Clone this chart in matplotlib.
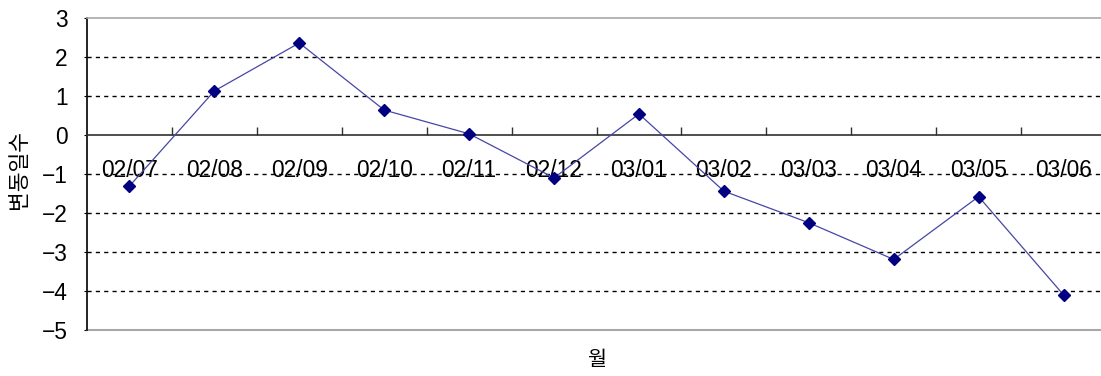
import matplotlib
matplotlib.use("Agg")
import matplotlib.pyplot as plt
from matplotlib.ticker import FixedLocator

months = ["02/07", "02/08", "02/09", "02/10", "02/11", "02/12",
          "03/01", "03/02", "03/03", "03/04", "03/05", "03/06"]
values = [-1.31, 1.13, 2.36, 0.64, 0.03, -1.10,
          0.54, -1.44, -2.25, -3.19, -1.58, -4.10]
yticks = [3, 2, 1, 0, -1, -2, -3, -4, -5]
grid_levels = [2, 1, -1, -2, -3, -4]

plt.rcParams['font.family'] = ['Liberation Sans', 'Noto Sans CJK KR', 'DejaVu Sans']

W, H = 1101, 376
fig = plt.figure(figsize=(W / 100, H / 100), dpi=100)
left, right, top, bottom = 87, 1106, 18, 330
ax = fig.add_axes([left / W, (H - bottom) / H, (right - left) / W, (bottom - top) / H])

x = list(range(len(months)))
ax.set_xlim(-0.5, len(months) - 0.5)
ax.set_ylim(min(yticks), max(yticks))

for g in grid_levels:
    ax.axhline(g, color='black', lw=1.0, ls=(0, (3, 3)), zorder=1)

ax.plot(x, values, color='#4646a8', lw=0.9, marker='D', markersize=6.5,
        markerfacecolor='#000080', markeredgecolor='#000080', zorder=3)

# spines
ax.spines['bottom'].set_position(('data', 0))
ax.spines['bottom'].set_color('#303030')
ax.spines['bottom'].set_linewidth(1.2)
ax.spines['left'].set_color('black')
ax.spines['left'].set_linewidth(1.2)
ax.spines['top'].set_color('#a8a8a8')
ax.spines['top'].set_linewidth(1.2)
ax.spines['right'].set_visible(False)
ax.plot([0, 1], [0, 0], transform=ax.transAxes, color='#a8a8a8', lw=1.5,
        clip_on=False, zorder=2)

ax.set_xticks(x)
ax.set_xticklabels(months, fontsize=16.4)
ax.tick_params(axis='x', which='major', length=0, pad=17.5)
ax.xaxis.set_minor_locator(FixedLocator([i + 0.5 for i in range(len(months))]))
ax.tick_params(axis='x', which='minor', direction='in', length=5.5, width=1.0,
               color='#303030')

ax.set_yticks(yticks)
ax.set_yticklabels([str(v).replace('-', '\u2212') for v in yticks], fontsize=16.4)
ax.tick_params(axis='y', direction='out', length=2, pad=12)

ax.set_ylabel('변동일수', fontsize=15.5, family=['Noto Sans CJK KR', 'DejaVu Sans'])
ax.yaxis.set_label_coords(-0.056, 0.515)
ax.set_xlabel('월', fontsize=15, family=['Noto Sans CJK KR', 'DejaVu Sans'])
ax.xaxis.set_label_coords(0.5005, -0.062)

fig.savefig('out.png', dpi=100)
